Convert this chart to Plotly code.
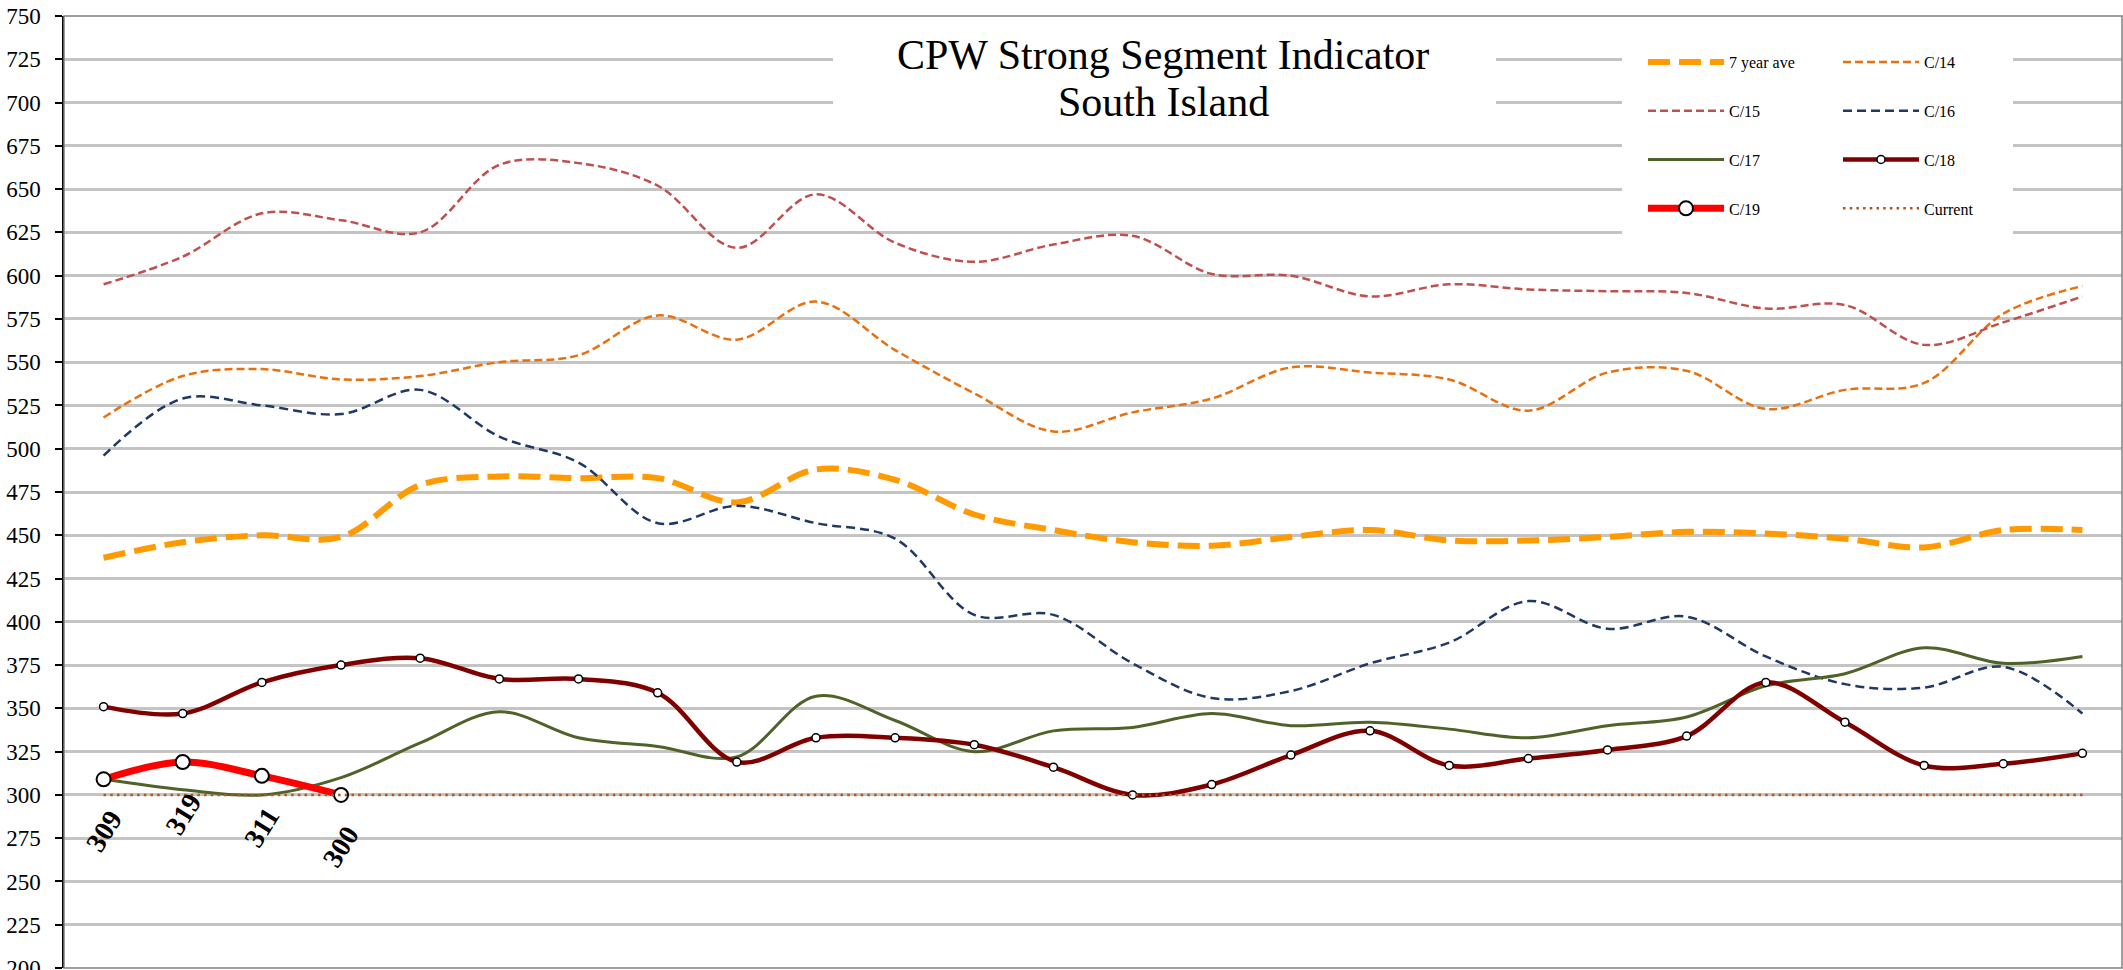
import plotly.graph_objects as go

# ---- data ----
n_points = 26
categories = [str(i + 1) for i in range(n_points)]

ave7 = [437, 446, 450, 449, 479, 484, 483, 483, 469, 488, 482, 462, 453, 446, 444, 449, 453,
        447, 447, 449, 452, 451, 448, 443, 453, 453]
c14 = [518, 542, 546, 540, 542, 550, 554, 577, 563, 585, 557, 532, 510, 521, 529, 547, 544,
       540, 522, 544, 545, 523, 534, 538, 578, 594]
c15 = [595, 611, 636, 632, 625, 664, 665, 652, 616, 647, 619, 608, 618, 623, 601, 600, 588,
       595, 592, 591, 590, 581, 583, 560, 573, 588]
c16 = [496, 529, 525, 520, 534, 507, 492, 457, 467, 457, 448, 404, 404, 376, 356, 360, 376,
       388, 412, 396, 403, 380, 364, 362, 374, 347]
c17 = [309, 303, 300, 310, 330, 348, 333, 328, 322, 357, 343, 325, 337, 339, 347, 340, 342,
       338, 333, 340, 345, 363, 370, 385, 376, 380]
c18 = [351, 347, 365, 375, 379, 367, 367, 359, 319, 333, 333, 329, 316, 300, 306, 323, 337,
       317, 321, 326, 334, 365, 342, 317, 318, 324]
c19 = [309, 319, 311, 300]
current = [300] * n_points

series_names = ["7 year ave", "C/14", "C/15", "C/16", "C/17", "C/18", "C/19", "Current"]
title_lines = ["CPW Strong Segment Indicator", "South Island"]
y_ticks = list(range(200, 751, 25))

# ---- figure ----
W, H = 2123, 970
ML, MR, MT, MB = 64, 1, 16, 2
PW, PH = W - ML - MR, H - MT - MB


def px_x(p):
    return (p - ML) / PW


def px_y(p):
    return 1 - (p - MT) / PH


SERIF = "Liberation Serif, Times New Roman, serif"

fig = go.Figure()

spl = dict(shape="spline", smoothing=1)

# legend column 1: 7 year ave, C/15, C/17, C/19 ; column 2: C/14, C/16, C/18, Current
fig.add_trace(go.Scatter(x=categories, y=ave7, name=series_names[0], mode="lines",
                         line=dict(color="#FF9A00", width=6, dash="22px,9px", **spl),
                         legend="legend", legendgroup="a", legendrank=1))
fig.add_trace(go.Scatter(x=categories, y=c14, name=series_names[1], mode="lines",
                         line=dict(color="#E8700E", width=2.5, dash="8px,4px", **spl),
                         legend="legend2", legendgroup="b", legendrank=1))
fig.add_trace(go.Scatter(x=categories, y=c15, name=series_names[2], mode="lines",
                         line=dict(color="#C0504D", width=2.5, dash="8px,4px", **spl),
                         legend="legend", legendgroup="c", legendrank=2))
fig.add_trace(go.Scatter(x=categories, y=c16, name=series_names[3], mode="lines",
                         line=dict(color="#1F3864", width=2.5, dash="9px,5px", **spl),
                         legend="legend2", legendgroup="d", legendrank=2))
fig.add_trace(go.Scatter(x=categories, y=c17, name=series_names[4], mode="lines",
                         line=dict(color="#4F6228", width=3, **spl),
                         legend="legend", legendgroup="e", legendrank=3))
fig.add_trace(go.Scatter(x=categories, y=c18, name=series_names[5], mode="lines+markers",
                         line=dict(color="#800000", width=4.5, **spl),
                         marker=dict(size=8, color="white", line=dict(color="black", width=1.5)),
                         legend="legend2", legendgroup="f", legendrank=3))
fig.add_trace(go.Scatter(x=categories[:len(c19)], y=c19, name=series_names[6], mode="lines+markers",
                         line=dict(color="#FF0000", width=7, **spl),
                         marker=dict(size=14, color="white", line=dict(color="black", width=2)),
                         legend="legend", legendgroup="g", legendrank=4))
fig.add_trace(go.Scatter(x=categories, y=current, name=series_names[7], mode="lines",
                         line=dict(color="#B0561A", width=2.5, dash="2.5px,4.2px"),
                         legend="legend2", legendgroup="h", legendrank=4))

# data labels for C/19 (x given as category index)
for idx, v in enumerate(c19):
    fig.add_annotation(x=idx, y=v, text=f"<b>{v}</b>", showarrow=False, yshift=-52,
                       textangle=-58, font=dict(family=SERIF, size=28, color="black"))

# title with white box
fig.add_shape(type="rect", xref="paper", yref="paper", x0=px_x(833), x1=px_x(1496),
              y0=px_y(128), y1=px_y(30), fillcolor="white", line=dict(width=0), layer="above")
for line_text, cy in zip(title_lines, [55.5, 101.5]):
    fig.add_annotation(xref="paper", yref="paper", x=px_x(1163), y=px_y(cy),
                       xanchor="center", yanchor="middle",
                       text=line_text, showarrow=False,
                       font=dict(family=SERIF, size=42, color="black"))

# legend white box
fig.add_shape(type="rect", xref="paper", yref="paper", x0=px_x(1622), x1=px_x(2013),
              y0=px_y(242), y1=px_y(33), fillcolor="white", line=dict(width=0), layer="above")

# plot border
fig.add_shape(type="rect", xref="paper", yref="paper", x0=0, x1=1, y0=0, y1=1,
              line=dict(color="#808080", width=1.5), layer="above")

leg_common = dict(font=dict(family=SERIF, size=16, color="black"), bgcolor="rgba(0,0,0,0)",
                  borderwidth=0, itemwidth=76, traceorder="grouped", tracegroupgap=25,
                  xanchor="left", yanchor="top", orientation="v")

fig.update_layout(
    width=W, height=H,
    margin=dict(l=ML, r=MR, t=MT, b=MB, pad=0, autoexpand=False),
    paper_bgcolor="white", plot_bgcolor="white",
    showlegend=True,
    legend=dict(x=px_x(1643), y=px_y(45), **leg_common),
    legend2=dict(x=px_x(1838), y=px_y(45), **leg_common),
    xaxis=dict(type="category", range=[-0.5, n_points - 0.5], showticklabels=False,
               showgrid=False, zeroline=False, showline=False, ticks="", automargin=False),
    yaxis=dict(range=[200, 750], tickvals=y_ticks, ticktext=[str(t) for t in y_ticks],
               showgrid=True, gridcolor="#C4C4C4", gridwidth=2.5, zeroline=False,
               showline=True, linecolor="black", linewidth=1.5, automargin=False,
               ticks="outside", ticklen=7, tickcolor="black", tickwidth=1.5,
               ticklabelstandoff=10, ticklabeloverflow="allow",
               tickfont=dict(family=SERIF, size=23, color="black")),
    hovermode=False,
)

fig.write_html("out.html", config={"displayModeBar": False},
               post_script="document.body.style.margin='0';document.body.style.overflow='hidden';")
